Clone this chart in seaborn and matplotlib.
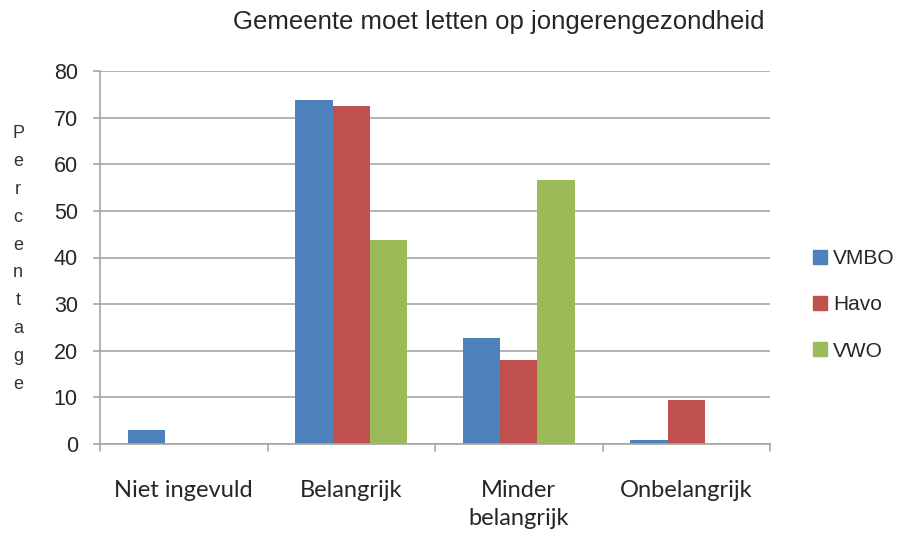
import matplotlib
matplotlib.use("Agg")
import matplotlib.pyplot as plt
import seaborn as sns
import pandas as pd

categories = ["Niet ingevuld", "Belangrijk", "Minder\nbelangrijk", "Onbelangrijk"]
series = ["VMBO", "Havo", "VWO"]
vmbo = [2.9, 73.7, 22.8, 0.9]
havo = [0.0, 72.6, 18.1, 9.5]
vwo = [0.0, 43.8, 56.6, 0.0]
colors = ["#4F81BD", "#C0504D", "#9BBB59"]
yticks = [0, 10, 20, 30, 40, 50, 60, 70, 80]

rows = []
for s, vals in zip(series, [vmbo, havo, vwo]):
    for c, v in zip(categories, vals):
        rows.append({"cat": c, "serie": s, "val": v})
df = pd.DataFrame(rows)

sns.set_theme(style="white")
plt.rcParams["font.family"] = ["Liberation Sans", "DejaVu Sans"]

fig = plt.figure(figsize=(9.07, 5.36), dpi=100)
ax = fig.add_axes([100/907, 1-444/536, 670/907, 373/536])
sns.barplot(data=df, x="cat", y="val", hue="serie", palette=colors, order=categories,
            hue_order=series, width=0.67, saturation=1, ax=ax, linewidth=0, edgecolor="none")

ax.set_ylim(0, 80)
ax.set_xlim(-0.5, 3.5)
ax.set_yticks(yticks)
ax.set_yticklabels([str(t) for t in yticks], fontsize=15.5)
ax.yaxis.grid(True, color="#a6a6a6", linewidth=1.2)
ax.set_axisbelow(True)
for s in ["top", "right"]:
    ax.spines[s].set_visible(False)
ax.spines["left"].set_color("#a6a6a6")
ax.spines["bottom"].set_color("#a6a6a6")
ax.spines["left"].set_linewidth(1.2)
ax.spines["bottom"].set_linewidth(1.2)

ax.set_xticks([0, 1, 2, 3])
ax.set_xticklabels(categories, fontsize=17, family=["Lato", "DejaVu Sans"], linespacing=1.38)
ax.tick_params(axis="x", length=0, pad=26)
ax.tick_params(axis="y", length=5, color="#a6a6a6", width=1.2, left=True, pad=11)
ax.set_xlabel("")
ax.set_ylabel("")
for xb in [-0.5, 0.5, 1.5, 2.5, 3.5]:
    ax.plot([xb, xb], [0, -1.6], color="#a6a6a6", lw=1.2, clip_on=False)

fig.text(18/907, 1-259/536, "\n".join("Percentage"), fontsize=13, ha="center", va="center",
         linespacing=1.84, color="#333333")
fig.text(499/907, 1-22/536, "Gemeente moet letten op jongerengezondheid", fontsize=18.5,
         ha="center", va="center")

ax.legend_.remove()
handles = [plt.Rectangle((0, 0), 1, 1, color=c) for c in colors]
fig.legend(handles, series, loc="center left", bbox_to_anchor=(813/907, 1-305/536),
           frameon=False, fontsize=15, borderpad=0, borderaxespad=0,
           handlelength=0.67, handleheight=0.67, labelspacing=1.3, handletextpad=0.3)
fig.savefig("out.png", dpi=100)
